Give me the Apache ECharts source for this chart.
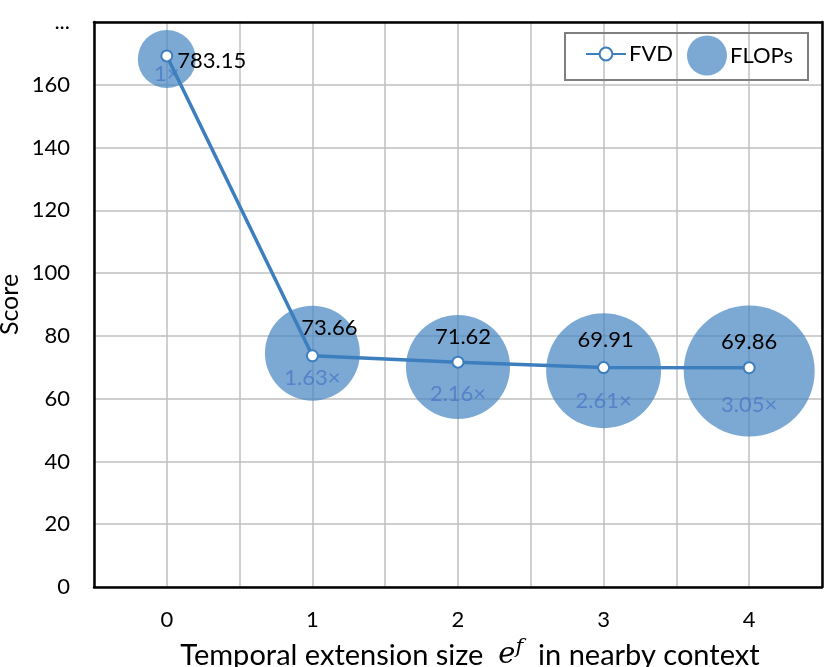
<!DOCTYPE html>
<html>
<head>
<meta charset="utf-8">
<script src="https://cdn.jsdelivr.net/npm/echarts@6/dist/echarts.min.js"></script>
<style>html,body{margin:0;padding:0;background:#fff;}#c{width:831px;height:667px;}</style>
</head>
<body>
<div id="c"></div>
<script>
// ---- data ----
var extSizes = [0, 1, 2, 3, 4];
var fvdLabels = [783.15, 73.66, 71.62, 69.91, 69.86];   // true FVD values (label text)
var fvdPlotted = [169.2, 73.66, 71.62, 69.91, 69.86];   // plotted position (broken axis for 783.15)
var flopsRatio = [1, 1.63, 2.16, 2.61, 3.05];           // FLOPs label values
var bubbleY = [168.2, 74.5, 70.1, 68.9, 68.8];          // bubble centre (score axis)
var bubbleArea = [1, 2.68, 3.22, 3.93, 5.1];            // relative bubble area
var yTicks = [0, 20, 40, 60, 80, 100, 120, 140, 160, 180];
var yTickLabels = ['0', '20', '40', '60', '80', '100', '120', '140', '160', '...'];

var FONT = 'Lato';
var chart = echarts.init(document.getElementById('c'));

var lineData = extSizes.map(function (x, i) {
  var item = { value: [x, fvdPlotted[i]], label: {} };
  if (i === 0) { item.label = { position: 'right', distance: 4, offset: [0, 5] }; }
  if (i === 1) { item.label = { offset: [17, -2] }; }
  if (i === 2) { item.label = { offset: [5, 0] }; }
  if (i === 3) { item.label = { offset: [2, -2] }; }
  return item;
});
var bubbleData = extSizes.map(function (x, i) {
  return [x, bubbleY[i], bubbleArea[i], flopsRatio[i]];
});

var borderAxis = { show: true, onZero: false, lineStyle: { color: '#000', width: 2.5 } };

chart.setOption({
  animation: false,
  backgroundColor: '#fff',
  textStyle: { fontFamily: FONT },
  grid: { left: 94, right: 9, top: 22, bottom: 80, containLabel: false, outerBoundsMode: 'none' },
  xAxis: [{
    type: 'value', min: -0.5, max: 4.5, interval: 0.5, position: 'bottom',
    axisLine: borderAxis,
    axisTick: { show: false },
    splitLine: { show: true, lineStyle: { color: '#bfbfbf', width: 1.5 } },
    axisLabel: {
      color: '#000', fontSize: 22, fontFamily: FONT, margin: 22,
      formatter: function (v) {
        var idx = extSizes.indexOf(v);
        return idx >= 0 ? String(extSizes[idx]) : '';
      }
    },
    name: 'Temporal extension size  {e|e}{sup|f}  in nearby context',
    nameLocation: 'middle', nameGap: 50, nameMoveOverlap: false,
    nameTextStyle: {
      color: '#000', fontSize: 29, fontFamily: FONT, padding: [0, 0, 0, 24],
      rich: {
        e: { fontSize: 29, fontStyle: 'italic', fontFamily: 'DejaVu Serif', color: '#000' },
        sup: { fontSize: 21, fontStyle: 'italic', fontFamily: 'DejaVu Serif', color: '#000', padding: [0, 0, 16, 0] }
      }
    }
  }, {
    type: 'value', min: -0.5, max: 4.5, interval: 0.5, position: 'top',
    axisLine: borderAxis, axisTick: { show: false }, axisLabel: { show: false }, splitLine: { show: false }
  }],
  yAxis: [{
    type: 'value', min: 0, max: 180, interval: 20, position: 'left',
    axisLine: borderAxis,
    axisTick: { show: false },
    splitLine: { show: true, lineStyle: { color: '#bfbfbf', width: 1.5 } },
    axisLabel: {
      color: '#000', fontSize: 22, fontFamily: FONT, margin: 24,
      formatter: function (v) {
        var idx = yTicks.indexOf(v);
        return idx >= 0 ? yTickLabels[idx] : '';
      }
    },
    name: 'Score', nameLocation: 'middle', nameGap: 72, nameMoveOverlap: false,
    nameTextStyle: { color: '#000', fontSize: 25, fontFamily: FONT }
  }, {
    type: 'value', min: 0, max: 180, interval: 20, position: 'right',
    axisLine: borderAxis, axisTick: { show: false }, axisLabel: { show: false }, splitLine: { show: false }
  }],
  legend: [
    {
      data: ['FVD'], left: 585, top: 43, padding: 0,
      itemWidth: 40, itemHeight: 16, itemGap: 0,
      textStyle: { color: '#000', fontSize: 22, fontFamily: FONT, padding: [0, 0, 0, -2] }
    },
    {
      data: ['FLOPs'], left: 687, top: 35.5, padding: 0,
      itemWidth: 40, itemHeight: 40, itemGap: 0,
      textStyle: { color: '#000', fontSize: 22, fontFamily: FONT, padding: [0, 0, 0, -2] }
    }
  ],
  graphic: [{
    type: 'rect', left: 564, top: 32, z: 100, silent: true,
    shape: { width: 243, height: 47 },
    style: { fill: 'transparent', stroke: '#7f7f7f', lineWidth: 2 }
  }],
  series: [
    {
      name: 'FLOPs', type: 'scatter', z: 2,
      data: bubbleData,
      symbol: 'circle',
      symbolSize: function (v) { return 58 * Math.sqrt(v[2]); },
      itemStyle: { color: '#4584c2', opacity: 0.7 },
      label: {
        show: true, position: ['50%', '76%'], align: 'center', verticalAlign: 'middle',
        color: '#4472c4', fontSize: 22, fontFamily: FONT,
        formatter: function (p) { return p.value[3] + '×'; }
      },
      emphasis: { disabled: true }
    },
    {
      name: 'FVD', type: 'line', z: 5,
      data: lineData,
      symbol: 'emptyCircle', symbolSize: 11,
      lineStyle: { color: '#3d7ebf', width: 3.5 },
      itemStyle: { color: '#3d7ebf', borderWidth: 2.5, borderColor: '#3d7ebf' },
      label: {
        show: true, position: 'top', distance: 8,
        color: '#000', fontSize: 22, fontFamily: FONT,
        formatter: function (p) { return String(fvdLabels[p.dataIndex].toFixed(2)); }
      },
      emphasis: { disabled: true }
    }
  ]
});
</script>
</body>
</html>
